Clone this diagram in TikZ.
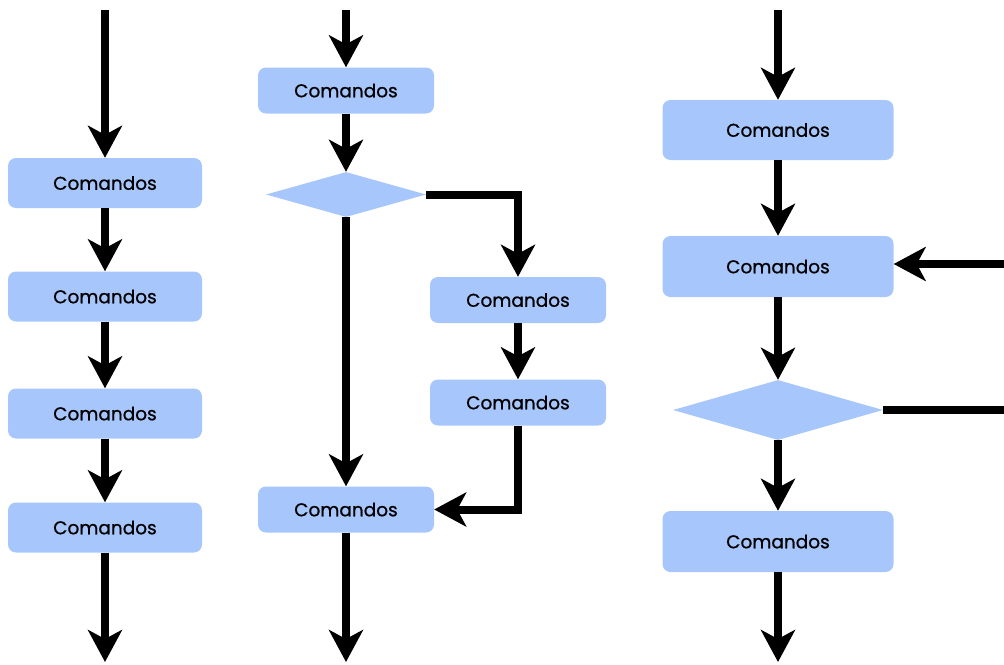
\documentclass[tikz,border=0pt]{standalone}
\usepackage{fontspec}
\setmainfont{Poppins}
\usetikzlibrary{arrows.meta,shapes.geometric}
\definecolor{boxblue}{RGB}{167,199,252}
\tikzset{
  cmd/.style={draw=none,fill=boxblue,rounded corners=8pt,minimum width=#1,inner sep=0pt,font=\fontsize{18.5}{22}\selectfont\addfontfeature{FakeBold=0.8}},
  dec/.style={diamond,fill=boxblue,draw=none,inner sep=0pt,aspect=3.5},
  flow/.style={line width=8pt,-{Stealth[length=32pt,width=34pt,inset=9pt]}},
  plain/.style={line width=8pt}
}
\begin{document}
\begin{tikzpicture}[x=1pt,y=-1pt]
\useasboundingbox (0,0) rectangle (1004,664);
% column 1
\coordinate (a0) at (105,10);
\node[cmd=194pt,minimum height=50pt] (a1) at (105,183) {Comandos};
\node[cmd=194pt,minimum height=50pt] (a2) at (105,296.5) {Comandos};
\node[cmd=194pt,minimum height=50pt] (a3) at (105,413.5) {Comandos};
\node[cmd=194pt,minimum height=50pt] (a4) at (105,527.5) {Comandos};
\coordinate (a5) at (105,662);
\draw[flow] (a0) -- (a1.north);
\draw[flow] (a1) -- (a2);
\draw[flow] (a2) -- (a3);
\draw[flow] (a3) -- (a4);
\draw[flow] (a4) -- (a5);
% column 2
\coordinate (b0) at (346,10);
\node[cmd=176pt,minimum height=46pt] (b1) at (346,90.5) {Comandos};
\node[dec,minimum width=160pt,minimum height=45pt] (bd) at (346,194.5) {};
\node[cmd=176pt,minimum height=46pt] (b2) at (518,300) {Comandos};
\node[cmd=176pt,minimum height=46pt] (b3) at (518,402.5) {Comandos};
\node[cmd=176pt,minimum height=46pt] (b4) at (346,509.5) {Comandos};
\coordinate (b5) at (346,662);
\draw[flow] (b0) -- (b1.north);
\draw[flow] (b1) -- (bd.north);
\draw[flow] (bd.east) -| (b2.north);
\draw[flow] (b2) -- (b3);
\draw[flow] (bd.south) -- (b4.north);
\draw[flow] (b3.south) |- (b4.east);
\draw[flow] (b4) -- (b5);
% column 3
\coordinate (c0) at (778,10);
\node[cmd=231pt,minimum height=60pt] (c1) at (778,130) {Comandos};
\node[cmd=231pt,minimum height=61pt] (c2) at (778,266.5) {Comandos};
\node[dec,minimum width=210pt,minimum height=60pt] (cd) at (778,410) {};
\node[cmd=231pt,minimum height=61pt] (c3) at (778,541.5) {Comandos};
\coordinate (c4) at (778,662);
\coordinate (cin) at (1004,264);
\coordinate (cout) at (1004,410);
\draw[flow] (c0) -- (c1.north);
\draw[flow] (c1) -- (c2);
\draw[flow] (cin) -- (c2.east |- cin);
\draw[flow] (c2) -- (cd.north);
\draw[plain] (cd.east) -- (cout);
\draw[flow] (cd.south) -- (c3.north);
\draw[flow] (c3) -- (c4);
\end{tikzpicture}
\end{document}
